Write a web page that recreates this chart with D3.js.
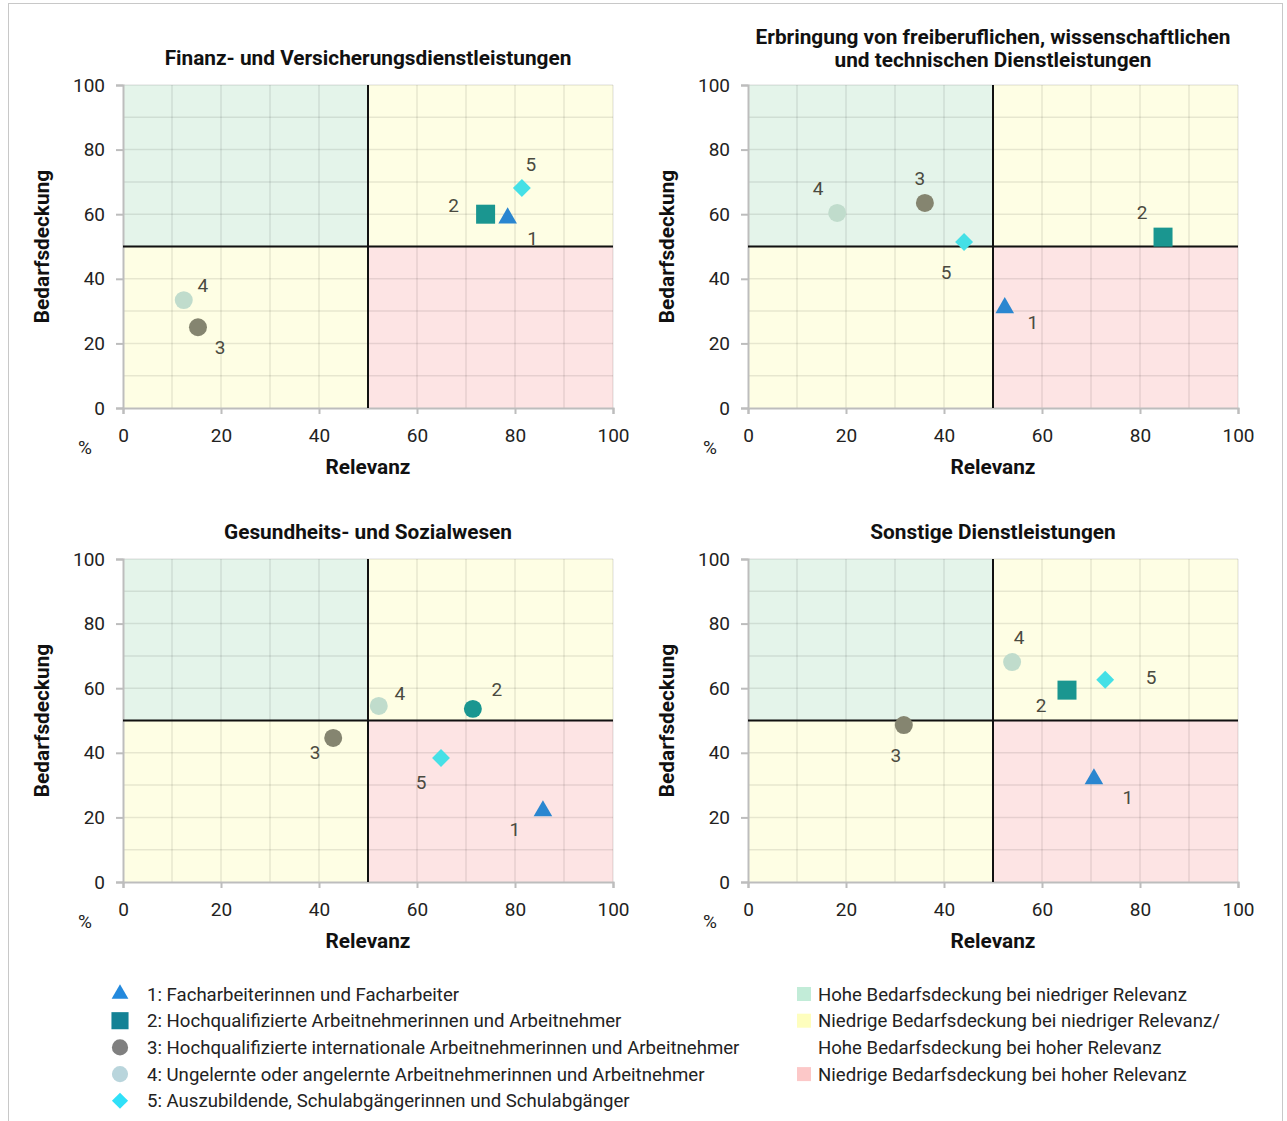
<!DOCTYPE html>
<html><head><meta charset="utf-8">
<script src="https://cdn.jsdelivr.net/npm/d3@7"></script>
<style>
body{margin:0;background:#fff;}
text{font-family:Roboto,"Open Sans",sans-serif;}
</style></head>
<body>
<svg id="c" width="1287" height="1121"></svg>
<script>
// ---------- DATA ----------
const panelTitles = [
  ["Finanz- und Versicherungsdienstleistungen"],
  ["Erbringung von freiberuflichen, wissenschaftlichen","und technischen Dienstleistungen"],
  ["Gesundheits- und Sozialwesen"],
  ["Sonstige Dienstleistungen"]
];
const seriesIds = [1,2,3,4,5];
const seriesNames = [
  "1: Facharbeiterinnen und Facharbeiter",
  "2: Hochqualifizierte Arbeitnehmerinnen und Arbeitnehmer",
  "3: Hochqualifizierte internationale Arbeitnehmerinnen und Arbeitnehmer",
  "4: Ungelernte oder angelernte Arbeitnehmerinnen und Arbeitnehmer",
  "5: Auszubildende, Schulabgängerinnen und Schulabgänger"
];
// Relevanz (x) per panel, series 1..5
const relevanz = [
  [78.5, 74.0, 15.3, 12.4, 81.4],
  [52.4, 84.7, 36.1, 18.2, 44.1],
  [85.7, 71.4, 42.9, 52.2, 64.9],
  [70.6, 65.1, 31.8, 53.9, 72.9]
];
// Bedarfsdeckung (y) per panel
const bedarfsdeckung = [
  [58.8, 60.0, 25.0, 33.4, 68.1],
  [31.0, 52.9, 63.5, 60.4, 51.4],
  [22.0, 53.6, 44.6, 54.5, 38.4],
  [31.9, 59.4, 48.6, 68.1, 62.6]
];
// marker shape per panel/series
const shapes = [
  ["triangle","square","circle","circle","diamond"],
  ["triangle","square","circle","circle","diamond"],
  ["triangle","circle","circle","circle","diamond"],
  ["triangle","square","circle","circle","diamond"]
];
const tickValues = [0,20,40,60,80,100];
const quadrantNames = [
  ["Hohe Bedarfsdeckung bei niedriger Relevanz"],
  ["Niedrige Bedarfsdeckung bei niedriger Relevanz/","Hohe Bedarfsdeckung bei hoher Relevanz"],
  ["Niedrige Bedarfsdeckung bei hoher Relevanz"]
];
const xTitle = "Relevanz", yTitle = "Bedarfsdeckung", unit = "%";

// ---------- STYLE / LAYOUT ----------
const seriesColors = ["#2a86d0","#1a9690","#858570","#c0dccc","#45e0e6"];
const legendColors = ["#2389dd","#138295","#808080","#b9d5dc","#30e0f8"];
const quadColors = ["#e4f4ea","#fefee4","#fde4e4"];
const legendQuadColors = ["#c2ecd8","#fefebe","#fcc8c8"];
// label offsets (px) relative to marker, per panel/series
const labelOffsets = [
  [[25,20],[-32,-9],[22,20],[19,-15],[9,-24]],
  [[28,14],[-21,-25],[-5,-25],[-19,-25],[-18,30]],
  [[-28,18],[24,-20],[-18,14],[21,-13],[-20,24]],
  [[34,18],[-26,15],[-8,30],[7,-25],[46,-3]]
];
const panelPos = [[123,85],[748,85],[123,559],[748,559]];
const PW = 490, PH = 323;
const BOLD = 20.8, LEG = 18.6;

const svg = d3.select("#c");
svg.append("rect").attr("x",8.5).attr("y",3.5).attr("width",1274).attr("height",1130)
  .attr("fill","none").attr("stroke","#c8c8c8");

function symPath(shape){
  if(shape==="triangle") return d3.symbol(d3.symbolTriangle, 150)();
  if(shape==="square") return d3.symbol(d3.symbolSquare, 361)();
  if(shape==="diamond") return d3.symbol(d3.symbolSquare, 160)();
  return d3.symbol(d3.symbolCircle, 254)();
}

panelPos.forEach(([ox,oy],p)=>{
  const x = d3.scaleLinear().domain([0,100]).range([0,PW]);
  const y = d3.scaleLinear().domain([0,100]).range([PH,0]);
  const g = svg.append("g").attr("transform",`translate(${ox},${oy})`);
  // quadrants
  const quads = [
    {x0:0,x1:50,y0:50,y1:100,c:quadColors[0]},
    {x0:50,x1:100,y0:50,y1:100,c:quadColors[1]},
    {x0:0,x1:50,y0:0,y1:50,c:quadColors[1]},
    {x0:50,x1:100,y0:0,y1:50,c:quadColors[2]}
  ];
  g.selectAll("rect.q").data(quads).join("rect")
    .attr("x",d=>x(d.x0)).attr("y",d=>y(d.y1))
    .attr("width",d=>x(d.x1)-x(d.x0)).attr("height",d=>y(d.y0)-y(d.y1))
    .attr("fill",d=>d.c);
  // grid
  const gv = d3.range(10,101,10);
  g.selectAll("line.gx").data(gv).join("line")
    .attr("x1",d=>x(d)).attr("x2",d=>x(d)).attr("y1",0).attr("y2",PH)
    .attr("stroke","rgba(0,0,0,0.09)").attr("stroke-width",1.5);
  g.selectAll("line.gy").data(gv).join("line")
    .attr("y1",d=>y(d)).attr("y2",d=>y(d)).attr("x1",0).attr("x2",PW)
    .attr("stroke","rgba(0,0,0,0.09)").attr("stroke-width",1.5);
  // axes
  const ax = g.append("g").attr("transform",`translate(0,${PH})`)
    .call(d3.axisBottom(x).tickValues(tickValues).tickSize(6).tickPadding(18));
  const ay = g.append("g").call(d3.axisLeft(y).tickValues(tickValues).tickSize(7).tickPadding(11));
  [ax,ay].forEach(a=>{
    a.select(".domain").attr("stroke","#bdbdbd").attr("stroke-width",2);
    a.selectAll(".tick line").attr("stroke","#bdbdbd").attr("stroke-width",2);
    a.selectAll(".tick text").attr("font-size",19).attr("fill","#222").attr("font-family","Roboto");
  });
  ax.selectAll(".tick text").attr("dy","0.55em");
  // divider lines
  g.append("line").attr("x1",x(50)).attr("x2",x(50)).attr("y1",0).attr("y2",PH)
    .attr("stroke","#111").attr("stroke-width",2);
  g.append("line").attr("x1",0).attr("x2",PW).attr("y1",y(50)).attr("y2",y(50))
    .attr("stroke","#111").attr("stroke-width",2);
  // titles
  const tl = panelTitles[p];
  tl.forEach((t,i)=>{
    g.append("text").attr("x",PW/2).attr("y", tl.length===1 ? -20 : -41+i*23)
      .attr("text-anchor","middle").attr("font-weight","bold").attr("font-size",BOLD)
      .attr("fill","#111").text(t);
  });
  g.append("text").attr("x",PW/2).attr("y",PH+66).attr("text-anchor","middle")
    .attr("font-weight","bold").attr("font-size",BOLD).attr("fill","#111").text(xTitle);
  g.append("text").attr("transform",`translate(-74,${PH/2}) rotate(-90)`)
    .attr("text-anchor","middle").attr("font-weight","bold").attr("font-size",BOLD)
    .attr("fill","#111").text(yTitle);
  g.append("text").attr("x",-38).attr("y",PH+46).attr("text-anchor","middle")
    .attr("font-size",19).attr("fill","#222").text(unit);
  // points
  seriesIds.forEach((s,i)=>{
    const px = x(relevanz[p][i]), py = y(bedarfsdeckung[p][i]);
    const sh = shapes[p][i];
    g.append("path").attr("d",symPath(sh))
      .attr("transform",`translate(${px},${py})` + (sh==="diamond"?" rotate(45)":""))
      .attr("fill",seriesColors[i]);
    const [dx,dy] = labelOffsets[p][i];
    g.append("text").attr("x",px+dx).attr("y",py+dy).attr("dy","0.36em")
      .attr("text-anchor","middle").attr("font-size",19).attr("fill","#4a4a40").text(s);
  });
});

// legend (series)
const legShapes = ["triangle","square","circle","circle","diamond"];
seriesNames.forEach((n,i)=>{
  const cy = 994 + i*26.7;
  svg.append("path").attr("d",symPath(legShapes[i]))
    .attr("transform",`translate(120,${cy})`+(legShapes[i]==="diamond"?" rotate(45)":"")+" scale(0.9)")
    .attr("fill",legendColors[i]);
  svg.append("text").attr("x",147).attr("y",cy).attr("dy","0.36em")
    .attr("font-size",LEG).attr("fill","#222").text(n);
});
// legend (quadrants)
let row = 0;
quadrantNames.forEach((lines,i)=>{
  const cy = 994 + row*26.7;
  svg.append("rect").attr("x",797).attr("y",cy-7).attr("width",14).attr("height",14)
    .attr("fill",legendQuadColors[i]);
  lines.forEach((t,j)=>{
    svg.append("text").attr("x",818).attr("y",cy+j*26.7).attr("dy","0.36em")
      .attr("font-size",LEG).attr("fill","#222").text(t);
  });
  row += lines.length;
});
</script>
</body></html>
